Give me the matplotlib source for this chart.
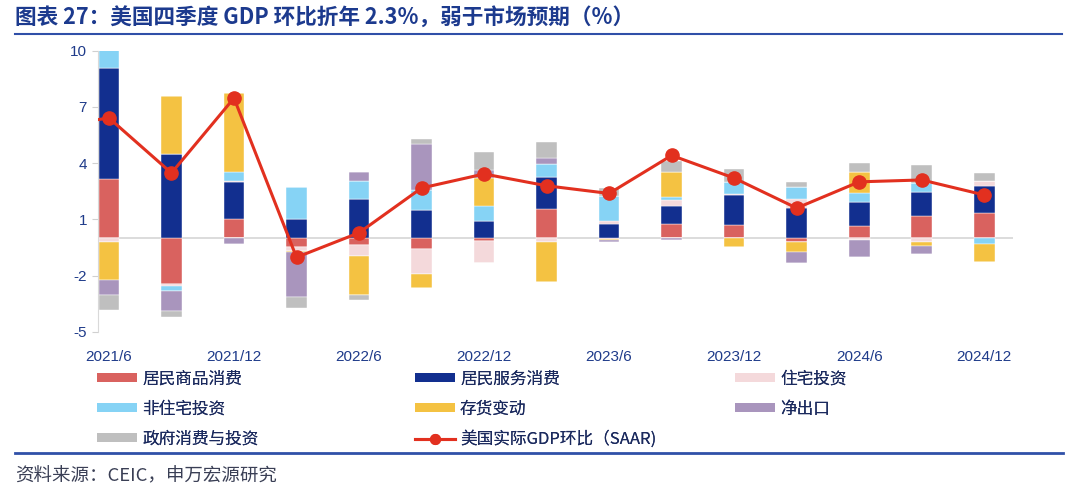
import matplotlib
matplotlib.use('Agg')
import matplotlib.pyplot as plt
import numpy as np
from matplotlib.patches import Patch
from matplotlib.lines import Line2D

plt.rcParams['font.family'] = ['Noto Sans CJK SC', 'DejaVu Sans']
plt.rcParams['axes.unicode_minus'] = False

quarters = ['2021/6', '2021/9', '2021/12', '2022/3', '2022/6', '2022/9', '2022/12',
            '2023/3', '2023/6', '2023/9', '2023/12', '2024/3', '2024/6', '2024/9', '2024/12']
tick_labels = ['2021/6', '2021/12', '2022/6', '2022/12', '2023/6', '2023/12', '2024/6', '2024/12']

goods     = [3.17, -2.44, 1.02, -0.46, -0.39, -0.58, -0.18, 1.57, -0.05, 0.75, 0.69, -0.23, 0.62, 1.16, 1.33]
services  = [5.90, 4.48, 1.97, 1.03, 2.06, 1.52, 0.93, 1.67, 0.75, 0.98, 1.60, 1.59, 1.28, 1.30, 1.46]
housing   = [-0.20, -0.14, 0.03, -0.21, -0.59, -1.34, -1.14, -0.20, 0.14, 0.30, 0.05, 0.50, -0.10, -0.20, 0.23]
nonres    = [0.98, -0.23, 0.52, 1.67, 0.96, 1.03, 0.77, 0.71, 1.37, 0.14, 0.64, 0.62, 0.53, 0.48, -0.32]
inventory = [-2.05, 3.11, 4.20, -0.10, -2.05, -0.74, 1.51, -2.17, -0.07, 1.37, -0.50, -0.53, 1.07, -0.23, -0.96]
netexp    = [-0.80, -1.10, -0.30, -2.38, 0.50, 2.46, 0.44, 0.32, -0.07, -0.10, 0.00, -0.57, -0.89, -0.41, 0.00]
gov       = [-0.77, -0.28, 0.00, -0.60, -0.27, 0.25, 0.96, 0.85, 0.39, 0.59, 0.68, 0.30, 0.50, 0.94, 0.46]
gdp       = [6.41, 3.47, 7.47, -1.03, 0.28, 2.67, 3.42, 2.79, 2.38, 4.41, 3.20, 1.60, 3.00, 3.10, 2.30]
gdp_2021q1 = 5.9

series_names = ['居民商品消费', '居民服务消费', '住宅投资', '非住宅投资', '存货变动', '净出口', '政府消费与投资']
series_vals = [goods, services, housing, nonres, inventory, netexp, gov]
colors = ['#D9625F', '#122F8F', '#F4D9DB', '#86D3F5', '#F4C242', '#A995BD', '#BFBFBF']
gdp_name = '美国实际GDP环比（SAAR)'
gdp_color = '#E2301F'

W, H = 1080, 497
fig = plt.figure(figsize=(W / 100, H / 100), dpi=100)
ax = fig.add_axes([98 / W, 1 - 331.7 / H, (1013 - 98) / W, (331.7 - 50.7) / H])

x = np.arange(len(quarters))
pos_base = np.zeros(len(quarters))
neg_base = np.zeros(len(quarters))
for name, vals, c in zip(series_names, series_vals, colors):
    v = np.array(vals, dtype=float)
    pos = np.where(v > 0, v, 0)
    neg = np.where(v < 0, v, 0)
    ax.bar(x, pos, bottom=pos_base, width=0.33, color=c, edgecolor='white', linewidth=0.3, zorder=2)
    ax.bar(x, neg, bottom=neg_base, width=0.33, color=c, edgecolor='white', linewidth=0.3, zorder=2)
    pos_base += pos
    neg_base += neg

ax.axhline(0, color='#D9D9D9', lw=1.3, zorder=1)
gx = np.concatenate([[-1], x])
gy = np.concatenate([[gdp_2021q1], gdp])
ax.plot(gx, gy, color=gdp_color, lw=2.2, zorder=3)
ax.plot(x, gdp, color=gdp_color, lw=0, marker='o', markersize=9.5, zorder=4)

ax.set_xlim(-0.175, 14.46)
ax.set_ylim(-5, 10)
ax.set_yticks([10, 7, 4, 1, -2, -5])
ax.set_xticks([quarters.index(t) for t in tick_labels])
ax.set_xticklabels(tick_labels)
tick_color = '#1F3B8A'
ax.tick_params(axis='x', length=0, pad=13, labelsize=11, labelcolor=tick_color)
ax.tick_params(axis='y', length=4, width=0.8, color='#D0D0D0', pad=4, labelsize=11, labelcolor=tick_color)
for lab in ax.get_xticklabels() + ax.get_yticklabels():
    lab.set_fontfamily('Liberation Sans')
for s in ['top', 'right', 'bottom']:
    ax.spines[s].set_visible(False)
ax.spines['left'].set_color('#D9D9D9')
ax.spines['left'].set_linewidth(0.8)

# Title and rules
fig.text(15 / W, 1 - 18 / H, '图表 27：美国四季度 GDP 环比折年 2.3%，弱于市场预期（%）',
         fontsize=15.6, fontweight='bold', color='#1C3A8E', va='center', ha='left')
fig.add_artist(Line2D([15 / W, 1062 / W], [1 - 34 / H, 1 - 34 / H], color='#2F4FA8', lw=1.5))
fig.add_artist(Line2D([15 / W, 1063 / W], [1 - 453 / H, 1 - 453 / H], color='#3050A8', lw=2.0))
fig.text(15 / W, 1 - 476 / H, '资料来源：CEIC，申万宏源研究', fontsize=13.3, color='#3A3F55',
         va='center', ha='left')

# Legends (three columns)
handles = [Patch(facecolor=c, edgecolor='none') for c in colors]
gdp_handle = Line2D([], [], color=gdp_color, lw=2.2, marker='o', markersize=7)
cols = [
    ([handles[0], handles[3], handles[6]], [series_names[0], series_names[3], series_names[6]], 97),
    ([handles[1], handles[4], gdp_handle], [series_names[1], series_names[4], gdp_name], 415),
    ([handles[2], handles[5]], [series_names[2], series_names[5]], 735),
]
for hs, ls, xpx in cols:
    leg = fig.legend(hs, ls, loc='upper left', bbox_to_anchor=(xpx / W, 1 - 370.5 / H),
                     frameon=False, fontsize=12, borderpad=0, borderaxespad=0,
                     handlelength=2.4, handleheight=0.5, handletextpad=0.3,
                     labelspacing=0.78, labelcolor='#1B2A5E')
    fig.add_artist(leg)

fig.savefig('out.png', dpi=100)
